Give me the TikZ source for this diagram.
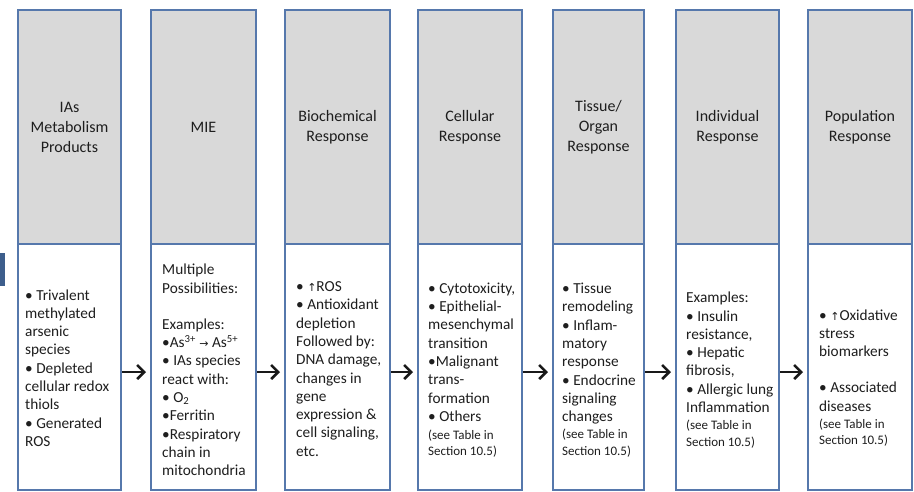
\documentclass[tikz,border=0pt]{standalone}
\usepackage{fontspec}
\setmainfont{Carlito}
\newfontfamily\symf{DejaVu Sans}
\usetikzlibrary{arrows.meta}
\definecolor{bord}{HTML}{5678AC}
\definecolor{grayfill}{HTML}{D9D9D9}
\definecolor{txt}{HTML}{1E1E1E}
\definecolor{markc}{HTML}{3D5E8C}
\newcommand{\notef}{\fontsize{13}{16}\selectfont}
\newcommand{\upar}{{\symf\fontsize{11}{14}\selectfont ↑}}
\begin{document}
\begin{tikzpicture}[x=1pt,y=-1pt,
  gbox/.style={draw=bord, line width=2pt, fill=grayfill, inner sep=0pt, outer sep=0pt,
    anchor=north west, minimum height=234pt, align=center, text=txt,
    font=\fontsize{16}{20}\selectfont},
  wbox/.style={draw=bord, line width=2pt, fill=white, inner sep=0pt, outer sep=0pt,
    anchor=north west, minimum height=246pt},
  body/.style={anchor=west, align=left, inner sep=0pt, text=txt,
    font=\fontsize{15.3}{18.3}\selectfont},
  arr/.style={draw=black!90, line width=2.6pt, -{Straight Barb[length=7pt,width=14pt]}},
  markbox/.style={fill=markc, draw=none, inner sep=0pt, anchor=north west,
    minimum width=5pt, minimum height=33pt}
]
\useasboundingbox (0,0) rectangle (914,491);
\node[markbox] (mk) at (0,253) {};
% gray header boxes
\node[gbox, minimum width=103pt] (g1) at (18,10) {IAs\\Metabolism\\Products};
\node[gbox, minimum width=105pt] (g2) at (151,10) {MIE};
\node[gbox, minimum width=105pt] (g3) at (285,10) {Biochemical\\Response};
\node[gbox, minimum width=104pt] (g4) at (418,10) {Cellular\\Response};
\node[gbox, minimum width=91pt] (g5) at (553,10) {Tissue/\\Organ\\Response};
\node[gbox, minimum width=103pt] (g6) at (676,10) {Individual\\Response};
\node[gbox, minimum width=104pt] (g7) at (808,10) {Population\\Response};
% white boxes
\node[wbox, minimum width=103pt] (w1) at (18,244) {};
\node[wbox, minimum width=105pt] (w2) at (151,244) {};
\node[wbox, minimum width=105pt] (w3) at (285,244) {};
\node[wbox, minimum width=104pt] (w4) at (418,244) {};
\node[wbox, minimum width=91pt] (w5) at (553,244) {};
\node[wbox, minimum width=103pt] (w6) at (676,244) {};
\node[wbox, minimum width=104pt] (w7) at (808,244) {};
% body texts
\node[body] (t1) at (25,368) {• Trivalent\\methylated\\arsenic\\species\\• Depleted\\cellular redox\\thiols\\• Generated\\ROS};
\node[body] (t2) at (162,370) {Multiple\\Possibilities:\\[18pt]Examples:\\•As\textsuperscript{3+} {\symf\fontsize{11}{14}\selectfont →} As\textsuperscript{5+}\\• IAs species\\react with:\\• O\textsubscript{2}\\•Ferritin\\•Respiratory\\chain in\\mitochondria};
\node[body] (t3) at (296,369) {• \upar ROS\\• Antioxidant\\depletion\\Followed by:\\DNA damage,\\changes in\\gene\\expression \&\\cell signaling,\\etc.};
\node[body] (t4) at (428,370) {• Cytotoxicity,\\• Epithelial-\\mesenchymal\\transition\\•Malignant\\trans-\\formation\\• Others\\\notef (see Table in\\[-2.5pt]\notef Section 10.5)};
\node[body] (t5) at (562,370) {• Tissue\\remodeling\\• Inflam-\\matory\\response\\• Endocrine\\signaling\\changes\\[-1pt]\notef (see Table in\\[-2pt]\notef Section 10.5)};
\node[body] (t6) at (686,370) {Examples:\\• Insulin\\resistance,\\• Hepatic\\fibrosis,\\• Allergic lung\\Inflammation\\[-1.5pt]\notef (see Table in\\[-1.5pt]\notef Section 10.5)};
\node[body] (t7) at (819,378) {• \upar Oxidative\\stress\\biomarkers\\[18pt]• Associated\\diseases\\[-1.5pt]\notef (see Table in\\[-1.5pt]\notef Section 10.5)};
% arrows
\draw[arr] ([yshift=-5pt,xshift=1pt]w1.east) -- ([yshift=-5pt,xshift=-5pt]w2.west);
\draw[arr] ([yshift=-5pt,xshift=1pt]w2.east) -- ([yshift=-5pt,xshift=-5pt]w3.west);
\draw[arr] ([yshift=-5pt,xshift=1pt]w3.east) -- ([yshift=-5pt,xshift=-5pt]w4.west);
\draw[arr] ([yshift=-5pt,xshift=1pt]w4.east) -- ([yshift=-5pt,xshift=-5pt]w5.west);
\draw[arr] ([yshift=-5pt,xshift=1pt]w5.east) -- ([yshift=-5pt,xshift=-5pt]w6.west);
\draw[arr] ([yshift=-5pt,xshift=1pt]w6.east) -- ([yshift=-5pt,xshift=-5pt]w7.west);
\end{tikzpicture}
\end{document}
